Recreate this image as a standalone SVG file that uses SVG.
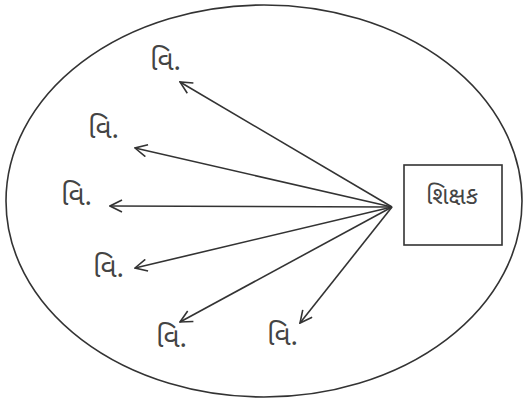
<svg xmlns="http://www.w3.org/2000/svg" width="529" height="403" viewBox="0 0 529 403">
<style>
.ln{stroke:#333;stroke-width:1.6;fill:none}
.t{font-family:"Noto Sans Gujarati","Noto Sans","DejaVu Sans",sans-serif;fill:#444}
.s{font-size:28px}
</style>
<defs>
<marker id="ah" viewBox="0 0 14 14" refX="13" refY="7" markerWidth="14" markerHeight="14" markerUnits="userSpaceOnUse" orient="auto">
<polyline points="1,1 13,7 1,13" fill="none" stroke="#333" stroke-width="1.6"/>
</marker>
</defs>
<rect width="529" height="403" fill="#fff"/>
<ellipse cx="264" cy="201" rx="258" ry="196" class="ln"/>
<g id="connectors">
<line x1="392" y1="207" x2="180" y2="82" class="ln" marker-end="url(#ah)"/>
<line x1="392" y1="207" x2="135" y2="148" class="ln" marker-end="url(#ah)"/>
<line x1="392" y1="207" x2="110" y2="206" class="ln" marker-end="url(#ah)"/>
<line x1="392" y1="207" x2="135" y2="268" class="ln" marker-end="url(#ah)"/>
<line x1="392" y1="207" x2="180" y2="322" class="ln" marker-end="url(#ah)"/>
<line x1="392" y1="207" x2="300" y2="323" class="ln" marker-end="url(#ah)"/>
</g>
<g id="teacher">
<rect x="404" y="165" width="98" height="80" class="ln"/>
<text x="452" y="204" class="t" font-size="24" text-anchor="middle">શિક્ષક</text>
</g>
<g id="s1"><text x="150" y="70" class="t s">વિ.</text></g>
<g id="s2"><text x="88" y="138" class="t s">વિ.</text></g>
<g id="s3"><text x="61" y="205" class="t s">વિ.</text></g>
<g id="s4"><text x="93" y="277" class="t s">વિ.</text></g>
<g id="s5"><text x="156" y="347" class="t s">વિ.</text></g>
<g id="s6"><text x="267" y="345" class="t s">વિ.</text></g>
</svg>
